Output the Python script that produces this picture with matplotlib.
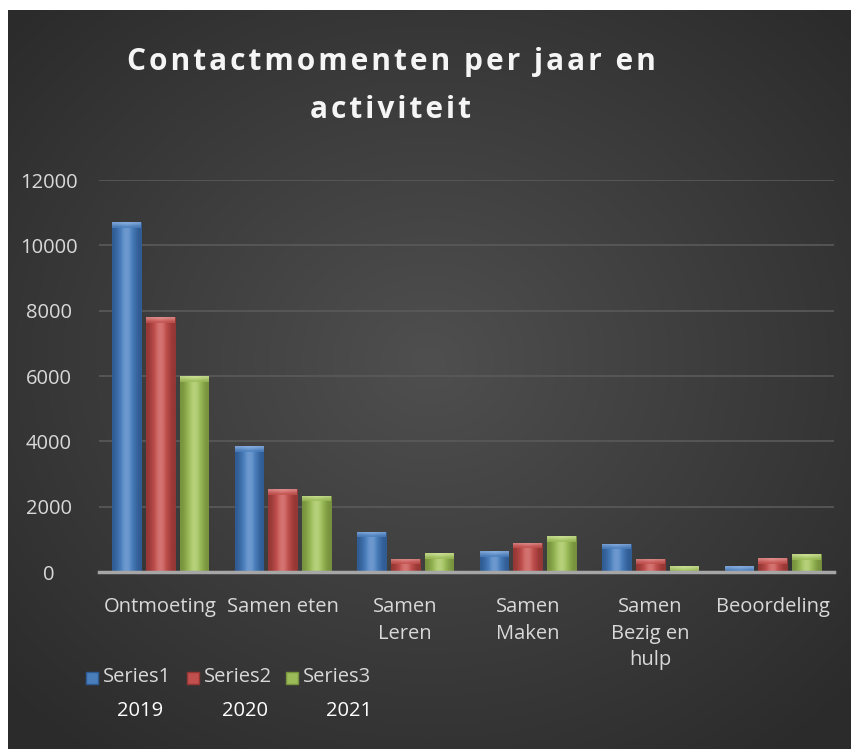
import numpy as np
import matplotlib
matplotlib.use("Agg")
import matplotlib.pyplot as plt
from matplotlib.patches import Rectangle

categories = ["Ontmoeting", "Samen eten", "Samen\nLeren", "Samen\nMaken",
              "Samen\nBezig en\nhulp", "Beoordeling"]
series_names = ["Series1", "Series2", "Series3"]
years = ["2019", "2020", "2021"]
series1 = [10700, 3850, 1230, 640, 860, 180]
series2 = [7800, 2540, 400, 890, 400, 430]
series3 = [6000, 2330, 580, 1100, 180, 550]
yticks = [0, 2000, 4000, 6000, 8000, 10000, 12000]

colors = ["#4a7ebb", "#c0504d", "#9bbb59"]
light = ["#8fb3e3", "#e69593", "#cfe59a"]
dark = ["#2f5b93", "#943634", "#76923c"]

plt.rcParams["font.family"] = ["Open Sans", "DejaVu Sans"]

fig = plt.figure(figsize=(8.51, 7.49), dpi=100)
fig.patch.set_facecolor("white")

# dark panel with radial gradient
bg = fig.add_axes([8 / 851, 0, 1 - 8 / 851, 1 - 10 / 749])
bg.set_axis_off()
yy, xx = np.mgrid[-1:1:300j, -1:1:300j]
r = np.sqrt(xx ** 2 + (yy + 0.05) ** 2)
shade = 0.31 - 0.14 * np.clip(r / 1.35, 0, 1)
bg.imshow(np.dstack([shade] * 3), extent=[0, 1, 0, 1], aspect="auto")
bg.set_xlim(0, 1)
bg.set_ylim(0, 1)

ax = fig.add_axes([99 / 851, 1 - 572 / 749, 735 / 851, 392 / 749])
ax.set_facecolor("none")
ax.set_zorder(2)
x = np.arange(len(categories))
w = 0.235
step = 0.275
for i, vals in enumerate([series1, series2, series3]):
    bars = ax.bar(x + (i - 1) * step, vals, w, color=colors[i],
                  edgecolor=dark[i], linewidth=0.6, zorder=3)
    grad = np.array([[0.0, 0.6, 1.0, 0.6, 0.0]])
    cmap = matplotlib.colors.LinearSegmentedColormap.from_list(
        "g%d" % i, [dark[i], colors[i], light[i]])
    capmap = matplotlib.colors.LinearSegmentedColormap.from_list(
        "c%d" % i, [colors[i], light[i]])
    for b in bars:
        bx, by = b.get_x(), b.get_y()
        bw, bh = b.get_width(), b.get_height()
        im = ax.imshow(grad, extent=[bx, bx + bw, by, by + bh], cmap=cmap,
                       vmin=0, vmax=1.15, aspect="auto", zorder=4,
                       interpolation="bicubic")
        im.set_clip_path(b)
        # bevelled top cap
        cap = min(bh, 170)
        cim = ax.imshow(np.array([[1.0], [0.0]]),
                        extent=[bx, bx + bw, by + bh - cap, by + bh],
                        cmap=capmap, vmin=0, vmax=1, aspect="auto",
                        zorder=5, alpha=0.8, interpolation="bicubic")
        cim.set_clip_path(b)

ax.set_xlim(-0.5, len(categories) - 0.5)
ax.set_ylim(0, 12000)
ax.set_yticks(yticks)
ax.set_yticklabels([str(t) for t in yticks], ha="center")
ax.set_xticks(x)
ax.set_xticklabels(categories, linespacing=1.45)
ax.tick_params(axis="both", length=0, colors="#d9d9d9", labelsize=14.5)
ax.tick_params(axis="y", pad=36)
ax.tick_params(axis="x", pad=18)
ax.grid(axis="y", color="#5a5a5a", linewidth=1.2, zorder=0)
for s in ["top", "right", "left"]:
    ax.spines[s].set_visible(False)
ax.spines["bottom"].set_color("#a6a6a6")
ax.spines["bottom"].set_linewidth(2.5)
ax.spines["bottom"].set_zorder(6)

hs = "\u200a"
title1 = hs.join("Contactmomenten per jaar en")
title2 = hs.join("activiteit")
for ty, t in [(62, title1), (110, title2)]:
    fig.text(391 / 851, 1 - ty / 749, t, ha="center", va="center",
             color="#f5f5f5", fontsize=21.5, fontweight="bold", zorder=10)

# legend
leg_x = [86, 187, 286]
for i, name in enumerate(series_names):
    fig.patches.append(Rectangle((leg_x[i] / 851, 1 - 684 / 749), 12 / 851,
                                 12 / 749, transform=fig.transFigure,
                                 facecolor=colors[i], edgecolor=dark[i],
                                 zorder=10))
    fig.text((leg_x[i] + 17) / 851, 1 - 677 / 749, name, ha="left",
             va="center", color="#d9d9d9", fontsize=14.5, zorder=10)
year_x = [140, 245, 349]
for xi, yr in zip(year_x, years):
    fig.text(xi / 851, 1 - 711 / 749, yr, ha="center", va="center",
             color="#ffffff", fontsize=14.5, zorder=10)

fig.savefig("out.png", dpi=100, facecolor=fig.get_facecolor())
